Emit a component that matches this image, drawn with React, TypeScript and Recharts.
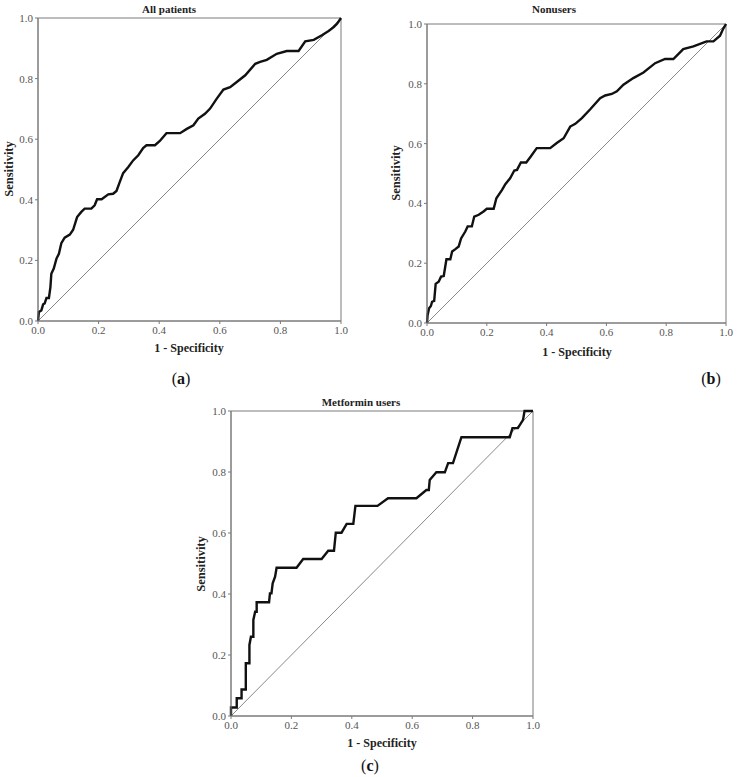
import { LineChart, Line, XAxis, YAxis, ReferenceArea } from 'recharts'

// 1 - specificity / sensitivity pairs
const allFpr = [0, 0.003, 0.011, 0.017, 0.022, 0.028, 0.036, 0.041, 0.044, 0.052, 0.061, 0.069, 0.077, 0.088, 0.105, 0.116, 0.129, 0.143, 0.154, 0.176, 0.187, 0.195, 0.21, 0.232, 0.248, 0.259, 0.27, 0.281, 0.298, 0.314, 0.331, 0.347, 0.358, 0.386, 0.402, 0.424, 0.469, 0.491, 0.513, 0.529, 0.551, 0.568, 0.59, 0.612, 0.634, 0.656, 0.684, 0.717, 0.733, 0.755, 0.788, 0.821, 0.86, 0.882, 0.91, 0.937, 0.959, 0.976, 0.987, 1]
const allTpr = [0, 0.03, 0.035, 0.055, 0.058, 0.076, 0.076, 0.112, 0.156, 0.173, 0.206, 0.222, 0.257, 0.275, 0.285, 0.301, 0.343, 0.36, 0.371, 0.371, 0.382, 0.402, 0.402, 0.418, 0.42, 0.429, 0.459, 0.488, 0.508, 0.53, 0.547, 0.571, 0.58, 0.58, 0.594, 0.62, 0.62, 0.634, 0.646, 0.668, 0.684, 0.701, 0.734, 0.764, 0.772, 0.789, 0.811, 0.849, 0.855, 0.862, 0.882, 0.891, 0.891, 0.923, 0.928, 0.943, 0.957, 0.97, 0.981, 1]

const nonFpr = [0, 0.002, 0.007, 0.013, 0.017, 0.024, 0.029, 0.039, 0.047, 0.056, 0.065, 0.078, 0.084, 0.095, 0.106, 0.114, 0.128, 0.136, 0.15, 0.158, 0.173, 0.189, 0.2, 0.223, 0.232, 0.251, 0.262, 0.278, 0.292, 0.301, 0.314, 0.332, 0.347, 0.367, 0.412, 0.434, 0.457, 0.479, 0.496, 0.518, 0.546, 0.579, 0.596, 0.618, 0.635, 0.657, 0.69, 0.724, 0.763, 0.796, 0.824, 0.857, 0.891, 0.935, 0.958, 0.98, 0.989, 1]
const nonTpr = [0, 0.027, 0.049, 0.057, 0.071, 0.074, 0.131, 0.138, 0.155, 0.157, 0.213, 0.213, 0.239, 0.247, 0.256, 0.283, 0.306, 0.323, 0.323, 0.356, 0.362, 0.373, 0.382, 0.382, 0.417, 0.445, 0.464, 0.484, 0.51, 0.512, 0.537, 0.537, 0.557, 0.585, 0.585, 0.602, 0.618, 0.657, 0.666, 0.685, 0.715, 0.752, 0.761, 0.766, 0.775, 0.797, 0.819, 0.838, 0.869, 0.883, 0.883, 0.916, 0.925, 0.942, 0.942, 0.961, 0.981, 1]

const metFpr = [0, 0, 0.019, 0.019, 0.035, 0.035, 0.049, 0.049, 0.061, 0.061, 0.066, 0.074, 0.074, 0.08, 0.085, 0.085, 0.126, 0.129, 0.134, 0.138, 0.146, 0.151, 0.217, 0.239, 0.3, 0.322, 0.341, 0.347, 0.366, 0.383, 0.405, 0.412, 0.485, 0.52, 0.614, 0.647, 0.655, 0.658, 0.68, 0.708, 0.719, 0.735, 0.763, 0.923, 0.932, 0.95, 0.967, 0.972, 1]
const metTpr = [0, 0.028, 0.028, 0.058, 0.058, 0.087, 0.087, 0.173, 0.173, 0.233, 0.26, 0.26, 0.315, 0.342, 0.342, 0.373, 0.373, 0.402, 0.402, 0.435, 0.457, 0.486, 0.486, 0.515, 0.515, 0.542, 0.542, 0.601, 0.601, 0.63, 0.63, 0.689, 0.689, 0.714, 0.714, 0.741, 0.741, 0.774, 0.799, 0.799, 0.829, 0.829, 0.914, 0.914, 0.944, 0.944, 0.971, 1, 1]

const diagX = [0, 1]
const diagY = [0, 1]
const axisTicks = [0, 0.2, 0.4, 0.6, 0.8, 1]

const W = 737
const H = 777
const SERIF = '"Liberation Serif", "DejaVu Serif", serif'
const AXIS = '#7a7a7a'
const TICK = { fontSize: 11, fill: '#555', fontFamily: SERIF }

const toPoints = (xs: number[], ys: number[]) => xs.map((x, i) => ({ x, y: ys[i] }))
const diagonal = toPoints(diagX, diagY)

interface PanelProps {
  fpr: number[]
  tpr: number[]
  left: number
  right: number
  top: number
  bottom: number
}

// every panel is a full-page svg, the margins put the plot box where it belongs
function RocPanel({ fpr, tpr, left, right, top, bottom }: PanelProps) {
  const yAxisW = 30
  const xAxisH = 20
  return (
    <div style={{ position: 'absolute', left: 0, top: 0 }}>
      <LineChart
        width={W}
        height={H}
        data={toPoints(fpr, tpr)}
        margin={{ left: left - yAxisW, right: W - right, top, bottom: H - bottom - xAxisH }}
      >
        <XAxis
          type="number"
          dataKey="x"
          domain={[0, 1]}
          ticks={axisTicks}
          tickFormatter={(v: number) => v.toFixed(1)}
          tick={TICK}
          tickSize={3}
          stroke={AXIS}
          height={xAxisH}
        />
        <YAxis
          type="number"
          domain={[0, 1]}
          ticks={axisTicks}
          tickFormatter={(v: number) => v.toFixed(1)}
          tick={TICK}
          tickSize={3}
          stroke={AXIS}
          width={yAxisW}
        />
        <ReferenceArea x1={0} x2={1} y1={0} y2={1} fill="none" stroke={AXIS} strokeWidth={1} />
        <Line
          data={diagonal}
          dataKey="y"
          type="linear"
          stroke="#888"
          strokeWidth={1}
          dot={false}
          isAnimationActive={false}
        />
        <Line
          dataKey="y"
          type="linear"
          stroke="#111"
          strokeWidth={2.4}
          dot={false}
          isAnimationActive={false}
        />
      </LineChart>
    </div>
  )
}

const boldText = { fontFamily: SERIF, fontWeight: 700, fontSize: 11, fill: '#222' }

export default function App() {
  return (
    <div style={{ position: 'absolute', left: 0, top: 0, width: W, height: H, background: '#fff' }}>
      <RocPanel fpr={allFpr} tpr={allTpr} left={38} right={341} top={18} bottom={321} />
      <RocPanel fpr={nonFpr} tpr={nonTpr} left={427} right={726} top={24} bottom={323} />
      <RocPanel fpr={metFpr} tpr={metTpr} left={231} right={533} top={411} bottom={716} />
      <svg width={W} height={H} style={{ position: 'absolute', left: 0, top: 0 }}>
        <g textAnchor="middle" dominantBaseline="central">
          <text x={169} y={9} {...boldText}>All patients</text>
          <text x={554} y={9} {...boldText}>Nonusers</text>
          <text x={361} y={402} {...boldText}>Metformin users</text>

          <text x={189} y={348} {...boldText} fontSize={12}>1 - Specificity</text>
          <text x={577} y={352} {...boldText} fontSize={12}>1 - Specificity</text>
          <text x={382} y={743} {...boldText} fontSize={12}>1 - Specificity</text>

          <text x={9} y={169} {...boldText} fontSize={12.5} transform="rotate(-90 9 169)">Sensitivity</text>
          <text x={396} y={173} {...boldText} fontSize={12.5} transform="rotate(-90 396 173)">Sensitivity</text>
          <text x={201} y={564} {...boldText} fontSize={12.5} transform="rotate(-90 201 564)">Sensitivity</text>

          <text x={181} y={378} fontFamily={SERIF} fontSize={16} fill="#111">
            (<tspan fontWeight={700}>a</tspan>)
          </text>
          <text x={711} y={378} fontFamily={SERIF} fontSize={16} fill="#111">
            (<tspan fontWeight={700}>b</tspan>)
          </text>
          <text x={370} y={765} fontFamily={SERIF} fontSize={16} fill="#111">
            (<tspan fontWeight={700}>c</tspan>)
          </text>
        </g>
      </svg>
    </div>
  )
}
